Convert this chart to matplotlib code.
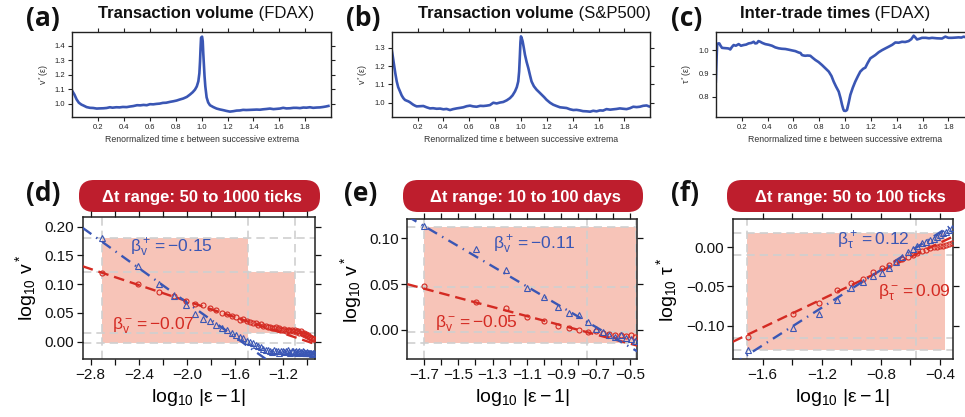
import numpy as np
import matplotlib
matplotlib.use('Agg')
import matplotlib.pyplot as plt
from matplotlib.patches import FancyBboxPatch, Rectangle

plt.rcParams['font.family'] = ['Liberation Sans', 'DejaVu Sans']
plt.rcParams['mathtext.fontset'] = 'custom'
plt.rcParams['mathtext.rm'] = 'Liberation Sans'
plt.rcParams['mathtext.it'] = 'Liberation Sans:italic'
plt.rcParams['mathtext.bf'] = 'Liberation Sans:bold'

BLUE = '#3a56b4'
RED = '#d42a22'
PINK = '#f7c4b8'
BADGE = '#be1e2d'
GRID = '#cfcfcf'

# ---- top row: averaged profiles between successive extrema (eps, value) ----
fdax_volume = [
    (0.000, 1.087), (0.015, 1.065), (0.033, 1.030), (0.050, 1.008), (0.070, 0.995),
    (0.085, 0.989), (0.110, 0.978), (0.136, 0.973), (0.160, 0.972), (0.188, 0.968),
    (0.210, 0.969), (0.240, 0.970), (0.265, 0.972), (0.290, 0.977), (0.310, 0.974),
    (0.340, 0.977), (0.365, 0.976), (0.390, 0.979), (0.420, 0.978), (0.445, 0.982),
    (0.470, 0.985), (0.500, 0.991), (0.525, 0.990), (0.550, 0.993), (0.575, 0.991),
    (0.600, 0.998), (0.625, 0.997), (0.650, 1.000), (0.675, 1.002), (0.700, 1.007),
    (0.725, 1.008), (0.755, 1.014), (0.780, 1.018), (0.806, 1.023), (0.830, 1.030),
    (0.857, 1.037), (0.885, 1.048), (0.909, 1.064), (0.930, 1.080), (0.948, 1.098),
    (0.962, 1.120), (0.974, 1.155), (0.982, 1.210), (0.987, 1.290), (0.991, 1.380),
    (0.995, 1.455), (1.003, 1.462), (1.008, 1.430), (1.012, 1.350), (1.017, 1.270),
    (1.022, 1.190), (1.028, 1.120), (1.038, 1.045), (1.050, 1.010), (1.064, 0.991),
    (1.090, 0.978), (1.115, 0.968), (1.140, 0.962), (1.167, 0.957), (1.190, 0.952),
    (1.218, 0.947), (1.245, 0.950), (1.270, 0.954), (1.295, 0.955), (1.320, 0.959),
    (1.345, 0.958), (1.373, 0.959), (1.400, 0.960), (1.425, 0.961), (1.450, 0.960),
    (1.476, 0.963), (1.500, 0.965), (1.528, 0.968), (1.555, 0.964), (1.580, 0.966),
    (1.605, 0.968), (1.630, 0.973), (1.655, 0.969), (1.683, 0.970), (1.710, 0.973),
    (1.734, 0.973), (1.760, 0.971), (1.786, 0.975), (1.810, 0.974), (1.837, 0.977),
    (1.862, 0.973), (1.889, 0.975), (1.915, 0.976), (1.940, 0.979), (1.960, 0.982),
    (1.980, 0.986),
]

sp500_volume = [
    (0.000, 1.289), (0.009, 1.250), (0.018, 1.207), (0.028, 1.160), (0.039, 1.116),
    (0.050, 1.085), (0.064, 1.062), (0.077, 1.040), (0.090, 1.025), (0.103, 1.015),
    (0.116, 1.011), (0.130, 1.007), (0.142, 1.002), (0.155, 0.995), (0.167, 0.989),
    (0.180, 0.984), (0.193, 0.980), (0.220, 0.981), (0.245, 0.982), (0.270, 0.975),
    (0.296, 0.969), (0.320, 0.970), (0.348, 0.967), (0.375, 0.968), (0.400, 0.964),
    (0.425, 0.966), (0.451, 0.960), (0.475, 0.965), (0.503, 0.969), (0.530, 0.972),
    (0.554, 0.975), (0.580, 0.981), (0.606, 0.984), (0.630, 0.980), (0.657, 0.978),
    (0.685, 0.983), (0.709, 0.982), (0.735, 0.984), (0.760, 0.987), (0.786, 1.000),
    (0.812, 0.996), (0.838, 1.001), (0.863, 1.004), (0.890, 1.013), (0.915, 1.025),
    (0.935, 1.040), (0.954, 1.062), (0.968, 1.085), (0.979, 1.116), (0.986, 1.170),
    (0.992, 1.262), (0.996, 1.330), (1.000, 1.362), (1.006, 1.352), (1.013, 1.335),
    (1.022, 1.300), (1.031, 1.262), (1.044, 1.222), (1.057, 1.189), (1.070, 1.150),
    (1.082, 1.116), (1.100, 1.090), (1.121, 1.071), (1.140, 1.058), (1.160, 1.044),
    (1.180, 1.030), (1.198, 1.016), (1.225, 1.000), (1.250, 0.989), (1.275, 0.982),
    (1.302, 0.975), (1.328, 0.973), (1.353, 0.971), (1.380, 0.964), (1.405, 0.960),
    (1.430, 0.961), (1.456, 0.958), (1.480, 0.954), (1.508, 0.953), (1.535, 0.951),
    (1.559, 0.956), (1.585, 0.953), (1.611, 0.958), (1.635, 0.957), (1.662, 0.965),
    (1.690, 0.962), (1.714, 0.964), (1.740, 0.966), (1.765, 0.969), (1.790, 0.967),
    (1.817, 0.965), (1.843, 0.970), (1.869, 0.978), (1.895, 0.976), (1.920, 0.978),
    (1.945, 0.983), (1.972, 0.985), (1.990, 0.980),
]

fdax_intertrade = [
    (0.000, 0.866), (0.005, 0.950), (0.010, 1.023), (0.018, 1.030), (0.027, 1.030),
    (0.037, 1.020), (0.048, 1.011), (0.065, 1.010), (0.087, 1.009), (0.100, 1.008),
    (0.112, 1.004), (0.125, 1.015), (0.138, 1.023), (0.155, 1.020), (0.177, 1.027),
    (0.195, 1.020), (0.215, 1.023), (0.235, 1.025), (0.254, 1.030), (0.275, 1.032),
    (0.293, 1.037), (0.305, 1.030), (0.318, 1.031), (0.330, 1.040), (0.344, 1.037),
    (0.360, 1.032), (0.383, 1.027), (0.410, 1.024), (0.435, 1.020), (0.460, 1.013),
    (0.486, 1.009), (0.510, 1.007), (0.538, 1.006), (0.565, 1.003), (0.589, 1.000),
    (0.615, 0.997), (0.641, 0.991), (0.655, 0.989), (0.667, 0.980), (0.680, 0.978),
    (0.692, 0.977), (0.710, 0.978), (0.731, 0.977), (0.750, 0.968), (0.770, 0.959),
    (0.795, 0.950), (0.822, 0.937), (0.850, 0.922), (0.874, 0.909), (0.895, 0.890),
    (0.912, 0.866), (0.930, 0.845), (0.951, 0.823), (0.965, 0.795), (0.977, 0.766),
    (0.986, 0.748), (0.992, 0.741), (1.004, 0.740), (1.015, 0.744), (1.028, 0.775),
    (1.041, 0.809), (1.060, 0.840), (1.079, 0.866), (1.100, 0.890), (1.118, 0.909),
    (1.140, 0.921), (1.157, 0.926), (1.175, 0.946), (1.196, 0.966), (1.215, 0.973),
    (1.234, 0.980), (1.260, 0.992), (1.286, 1.001), (1.310, 1.008), (1.338, 1.016),
    (1.365, 1.024), (1.389, 1.034), (1.415, 1.033), (1.441, 1.037), (1.465, 1.036),
    (1.492, 1.040), (1.512, 1.048), (1.531, 1.063), (1.545, 1.055), (1.557, 1.047),
    (1.575, 1.050), (1.595, 1.054), (1.625, 1.054), (1.650, 1.052), (1.673, 1.054),
    (1.710, 1.052), (1.750, 1.051), (1.776, 1.059), (1.800, 1.054), (1.827, 1.054),
    (1.855, 1.055), (1.879, 1.056), (1.900, 1.055), (1.918, 1.059), (1.930, 1.057),
]

# ---- bottom row: log-log scaling near the extremum ----
# points sit on the eps grid, |eps - 1| = k * step
d_step, d_k = 1 / 512, np.arange(1, 59)
d_plus = [0.181, 0.132, 0.101, 0.080, 0.063, 0.048, 0.040, 0.036, 0.029, 0.024,
          0.020, 0.016, 0.012, 0.009, 0.006, 0.002, 0.000, -0.003, -0.005, -0.008,
          -0.010, -0.012, -0.014, -0.015, -0.016, -0.018, -0.015, -0.017, -0.016, -0.019,
          -0.017, -0.016, -0.018, -0.017, -0.015, -0.018, -0.019, -0.016, -0.017, -0.018,
          -0.017, -0.019, -0.018, -0.016, -0.018, -0.019, -0.017, -0.018, -0.020, -0.019,
          -0.018, -0.019, -0.020, -0.019, -0.020, -0.021, -0.019, -0.020]
d_minus = [0.120, 0.101, 0.087, 0.079, 0.071, 0.066, 0.063, 0.058, 0.055, 0.050,
           0.049, 0.044, 0.043, 0.038, 0.039, 0.036, 0.035, 0.033, 0.032, 0.029,
           0.030, 0.027, 0.028, 0.025, 0.026, 0.024, 0.023, 0.025, 0.022, 0.023,
           0.021, 0.020, 0.022, 0.019, 0.021, 0.020, 0.018, 0.021, 0.019, 0.020,
           0.017, 0.019, 0.018, 0.016, 0.018, 0.015, 0.014, 0.015, 0.012, 0.013,
           0.010, 0.011, 0.008, 0.009, 0.006, 0.007, 0.004, 0.005]

e_step, e_k = 0.02, np.arange(1, 18)
e_plus = [0.113, 0.088, 0.065, 0.046, 0.036, 0.025, 0.019, 0.016, 0.009, 0.001,
          -0.002, -0.005, -0.008, -0.006, -0.009, -0.010, -0.012]
e_minus = [0.048, 0.030, 0.024, 0.0145, 0.0098, 0.004, 0.002, 0.000, -0.0025, -0.001,
           -0.003, -0.004, -0.006, -0.005, -0.007, -0.006, -0.008]

f_step, f_k = 0.02, np.arange(1, 25)
f_plus = [-0.131, -0.103, -0.085, -0.067, -0.052, -0.044, -0.037, -0.033, -0.026, -0.019,
          -0.012, -0.006, -0.002, 0.002, 0.005, 0.007, 0.009, 0.011, 0.013, 0.016,
          0.018, 0.020, 0.022, 0.025]
f_minus = [-0.115, -0.085, -0.071, -0.055, -0.046, -0.040, -0.031, -0.026, -0.022, -0.019,
           -0.015, -0.012, -0.010, -0.007, -0.005, -0.004, -0.001, 0.000, 0.001, 0.002,
           0.002, 0.003, 0.004, 0.005]

# fitted exponents (slope) and intercepts
d_beta_plus, d_icpt_plus = -0.15, -0.232
d_beta_minus, d_icpt_minus = -0.07, -0.0695
e_beta_plus, e_icpt_plus = -0.11, -0.0736
e_beta_minus, e_icpt_minus = -0.05, -0.0399
f_beta_plus, f_icpt_plus = 0.12, 0.067
f_beta_minus, f_icpt_minus = 0.09, 0.0417

W, H = 965, 417
fig = plt.figure(figsize=(W / 100, H / 100), dpi=100)

# pixel-space overlay for panel letters, titles and range badges
over = fig.add_axes([0, 0, 1, 1], zorder=-1)
over.set_xlim(0, W)
over.set_ylim(H, 0)
over.axis('off')


def px_axes(x0, x1, y0, y1):
    return fig.add_axes([x0 / W, 1 - y1 / H, (x1 - x0) / W, (y1 - y0) / H])


def fmt(v, nd):
    return f'{v:.{nd}f}'.replace('-', '\u2212')


def top_panel(box, data, ylim, yticks, ylabel, xmax=2.0):
    ax = px_axes(*box)
    eps = [p[0] for p in data]
    val = [p[1] for p in data]
    ax.plot(eps, val, color=BLUE, lw=1.9, solid_joinstyle='round')
    ax.set_xlim(0, xmax)
    ax.set_ylim(*ylim)
    xt = [0.2, 0.4, 0.6, 0.8, 1.0, 1.2, 1.4, 1.6, 1.8]
    ax.set_xticks(xt)
    ax.set_xticklabels([fmt(v, 1) for v in xt])
    ax.set_yticks(yticks)
    ax.set_yticklabels([fmt(v, 1) for v in yticks])
    ax.tick_params(direction='out', length=3, width=0.8, labelsize=5.5,
                   top=True, right=True, pad=2, colors='#222222')
    for s in ax.spines.values():
        s.set_linewidth(1.0)
        s.set_color('#222222')
    ax.set_xlabel('Renormalized time \u03b5 between successive extrema',
                  fontsize=6.3, labelpad=3, color='#333333')
    ax.set_ylabel(ylabel, fontsize=6.5, labelpad=3, color='#333333')
    return ax


def bottom_panel(box, xlim, ylim, xticks, xlab_every, yticks, ynd,
                 vlines, hlines, rects, x, plus, minus, fits, labels, ylabel):
    ax = px_axes(*box)
    ax.set_xlim(*xlim)
    ax.set_ylim(*ylim)
    for (x0, x1, y0, y1) in rects:
        ax.add_patch(Rectangle((x0, y0), x1 - x0, y1 - y0, facecolor=PINK,
                               edgecolor='none', zorder=0))
    for v in vlines:
        ax.axvline(v, color=GRID, lw=1.2, dashes=(5, 3), zorder=1)
    for h in hlines:
        ax.axhline(h, color=GRID, lw=1.2, dashes=(5, 3), zorder=1)

    xx = np.array(xlim)
    (bp, ip), (bm, im) = fits
    ax.plot(xx, bm * xx + im, color=RED, lw=1.7, dashes=(4.5, 2.5), zorder=3)
    ax.plot(xx, bp * xx + ip, color=BLUE, lw=1.7, dashes=(4.5, 2.5, 0.6, 2.5), zorder=3)
    ax.plot(x, minus, 'o', ms=3.6, mfc='none', mec=RED, mew=0.8, zorder=4)
    ax.plot(x, plus, '^', ms=3.8, mfc='none', mec=BLUE, mew=0.8, zorder=4)

    for (tx, ty, txt, col) in labels:
        ax.text(tx, ty, txt, color=col, fontsize=12.5, va='center', ha='left', zorder=5)

    ax.set_xticks(xticks)
    ax.set_xticklabels([fmt(v, 1) if i % xlab_every == 0 else ''
                        for i, v in enumerate(xticks)])
    ax.set_yticks(yticks)
    ax.set_yticklabels([fmt(v, ynd) for v in yticks])
    ax.tick_params(direction='out', length=4, width=0.9, labelsize=11,
                   top=True, right=True, pad=2, colors='#111111')
    for s in ax.spines.values():
        s.set_linewidth(1.1)
        s.set_color('#222222')
    ax.set_xlabel(r'$\mathregular{log_{10}\ |\varepsilon-1|}$', fontsize=14, labelpad=4)
    ax.set_ylabel(ylabel, fontsize=14, labelpad=4)
    return ax


# top row
top_panel((72.4, 331.0, 32, 117), fdax_volume, (0.91, 1.494),
          [1.0, 1.1, 1.2, 1.3, 1.4], r'$\mathregular{v^*(\varepsilon)}$')
top_panel((391.7, 650.2, 32, 117), sp500_volume, (0.922, 1.386),
          [1.0, 1.1, 1.2, 1.3], r'$\mathregular{v^*(\varepsilon)}$')
top_panel((715.8, 974.3, 32, 117), fdax_intertrade, (0.714, 1.079),
          [0.8, 0.9, 1.0], r'$\mathregular{\tau^*(\varepsilon)}$')

# panel titles: bold quantity followed by the market in regular weight
titles = [
    (98, 'Transaction volume', ' (FDAX)'),
    (418, 'Transaction volume', ' (S&P500)'),
    (740, 'Inter-trade times', ' (FDAX)'),
]
for tx, bold, plain in titles:
    t = over.text(tx, 21, bold, fontsize=12, fontweight='bold', ha='left',
                  va='bottom', color='#111111')
    over.annotate(plain, xy=(1, 0), xycoords=t, fontsize=12, ha='left',
                  va='bottom', color='#111111')

# bottom row
d_x = np.log10(d_k * d_step)
bottom_panel((82.7, 315.0, 216.7, 359.3), (-2.866, -0.937), (-0.0306, 0.2174),
             np.round(np.arange(-2.8, -0.95, 0.2), 1), 2,
             [0.0, 0.05, 0.10, 0.15, 0.20], 2,
             [-2.709, -1.495, -1.103], [0.180, 0.121, 0.0146, -0.003],
             [(-2.709, -1.495, -0.003, 0.180), (-2.709, -1.103, 0.0146, 0.121)],
             d_x, d_plus, d_minus,
             [(d_beta_plus, d_icpt_plus), (d_beta_minus, d_icpt_minus)],
             [(-2.474, 0.164, r'$\mathregular{\beta_v^+ = %s}$' % fmt(d_beta_plus, 2), BLUE),
              (-2.626, 0.028, r'$\mathregular{\beta_v^- = %s}$' % fmt(d_beta_minus, 2), RED)],
             r'$\mathregular{log_{10}\ v^*}$')

e_x = np.log10(e_k * e_step)
bottom_panel((407.3, 637.3, 219.3, 359.3), (-1.797, -0.457), (-0.032, 0.1207),
             np.round(np.arange(-1.7, -0.45, 0.1), 1), 2,
             [0.0, 0.05, 0.10], 2,
             [-1.70, -0.752, -0.465], [0.1127, 0.0473, -0.0025, -0.0145],
             [(-1.70, -0.462, -0.0145, 0.1127)],
             e_x, e_plus, e_minus,
             [(e_beta_plus, e_icpt_plus), (e_beta_minus, e_icpt_minus)],
             [(-1.296, 0.093, r'$\mathregular{\beta_v^+ = %s}$' % fmt(e_beta_plus, 2), BLUE),
              (-1.636, 0.007, r'$\mathregular{\beta_v^- = %s}$' % fmt(e_beta_minus, 2), RED)],
             r'$\mathregular{log_{10}\ v^*}$')

f_x = np.log10(f_k * f_step)
bottom_panel((732.7, 953.3, 219.3, 359.3), (-1.803, -0.31), (-0.1429, 0.0357),
             np.round(np.arange(-1.6, -0.35, 0.2), 1), 2,
             [-0.10, -0.05, 0.0], 2,
             [-1.708, -0.565], [0.0178, -0.0098, -0.1152, -0.131],
             [(-1.708, -0.366, -0.131, 0.0178)],
             f_x, f_plus, f_minus,
             [(f_beta_plus, f_icpt_plus), (f_beta_minus, f_icpt_minus)],
             [(-1.10, 0.008, r'$\mathregular{\beta_\tau^+ = %s}$' % fmt(f_beta_plus, 2), BLUE),
              (-0.817, -0.058, r'$\mathregular{\beta_\tau^- = %s}$' % fmt(f_beta_minus, 2), RED)],
             r'$\mathregular{log_{10}\ \tau^*}$')

# range badges above the scaling panels
badges = [
    (79, 241, '\u0394t range: 50 to 1000 ticks'),
    (403, 240, '\u0394t range: 10 to 100 days'),
    (727, 242, '\u0394t range: 50 to 100 ticks'),
]
for bx, bw, txt in badges:
    over.add_patch(FancyBboxPatch((bx, 180), bw, 32,
                                  boxstyle='round,pad=0,rounding_size=15',
                                  facecolor=BADGE, edgecolor='none'))
    over.text(bx + bw / 2 + 2, 197, txt, color='white', fontsize=12,
              fontweight='bold', ha='center', va='center')

# panel letters
letters = [(26, 18, '(a)'), (346, 18, '(b)'), (671, 18, '(c)'),
           (26, 193, '(d)'), (344, 193, '(e)'), (671, 193, '(f)')]
for lx, ly, t in letters:
    over.text(lx, ly, t, fontsize=19, fontweight='bold', family='Open Sans',
              ha='left', va='center', color='#111111')

fig.savefig('out.png', dpi=100)
